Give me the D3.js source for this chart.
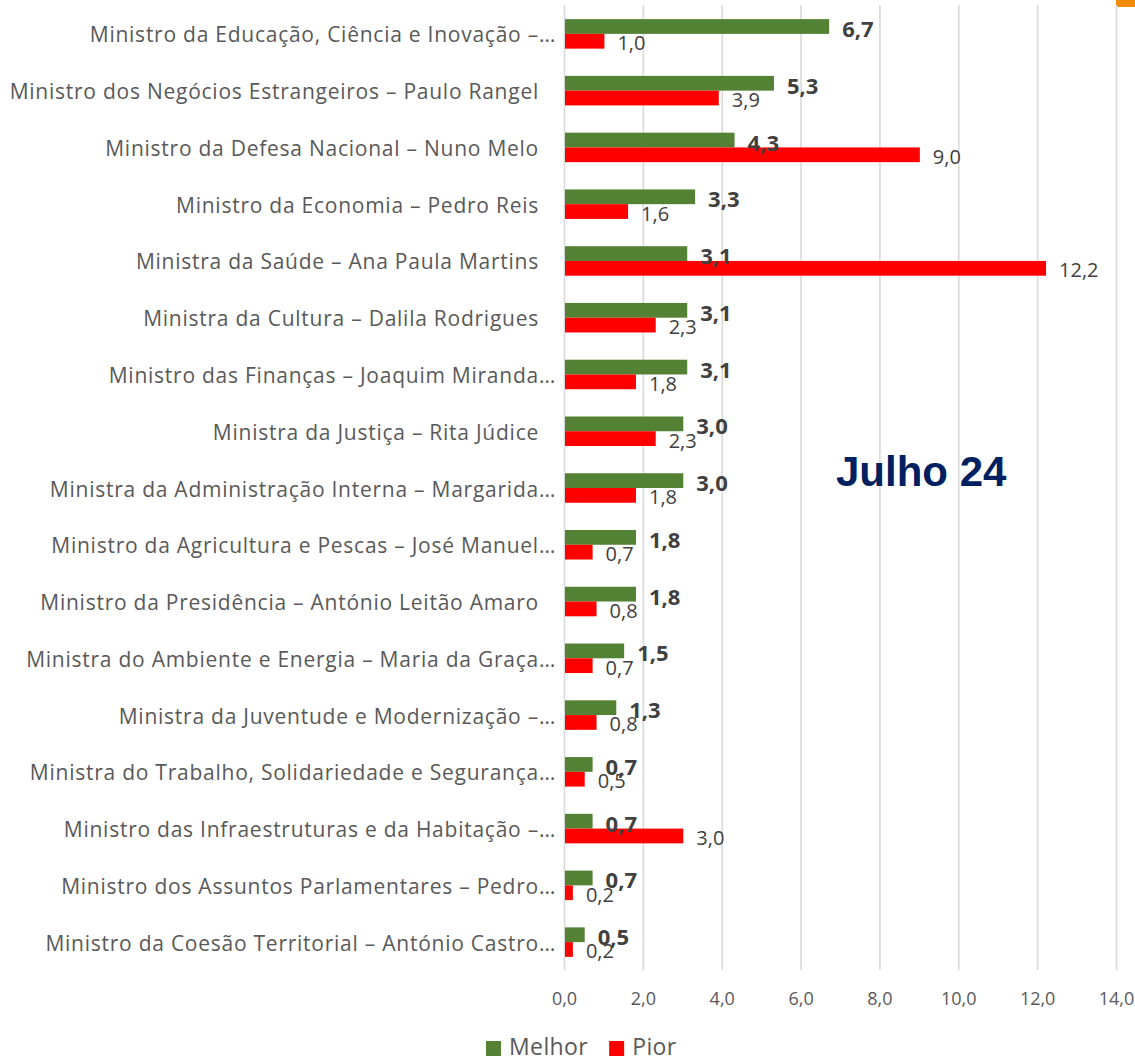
<!DOCTYPE html>
<html>
<head>
<meta charset="utf-8">
<script src="https://cdn.jsdelivr.net/npm/d3@7"></script>
<style>
  body { margin: 0; background: #fff; }
  svg { display: block; }
  text { white-space: pre; }
</style>
</head>
<body>
<svg id="chart" width="1135" height="1058"></svg>
<script>
// ministers, top to bottom
const ministers = [
  "Ministro da Educação, Ciência e Inovação –…",
  "Ministro dos Negócios Estrangeiros – Paulo Rangel",
  "Ministro da Defesa Nacional – Nuno Melo",
  "Ministro da Economia – Pedro Reis",
  "Ministra da Saúde – Ana Paula Martins",
  "Ministra da Cultura – Dalila Rodrigues",
  "Ministro das Finanças – Joaquim Miranda…",
  "Ministra da Justiça – Rita Júdice",
  "Ministra da Administração Interna – Margarida…",
  "Ministro da Agricultura e Pescas – José Manuel…",
  "Ministro da Presidência – António Leitão Amaro",
  "Ministra do Ambiente e Energia – Maria da Graça…",
  "Ministra da Juventude e Modernização –…",
  "Ministra do Trabalho, Solidariedade e Segurança…",
  "Ministro das Infraestruturas e da Habitação –…",
  "Ministro dos Assuntos Parlamentares – Pedro…",
  "Ministro da Coesão Territorial – António Castro…"
];
const melhor = [6.7, 5.3, 4.3, 3.3, 3.1, 3.1, 3.1, 3.0, 3.0, 1.8, 1.8, 1.5, 1.3, 0.7, 0.7, 0.7, 0.5];
const pior   = [1.0, 3.9, 9.0, 1.6, 12.2, 2.3, 1.8, 2.3, 1.8, 0.7, 0.8, 0.7, 0.8, 0.5, 3.0, 0.2, 0.2];
const seriesNames = ["Melhor", "Pior"];
const seriesColors = ["#548235", "#FF0000"];
const xTicks = [0, 2, 4, 6, 8, 10, 12, 14];
const title = "Julho 24";

const font = "'Open Sans', Lato, sans-serif";
const svg = d3.select("#chart");

const rows = ministers.map((name, i) => ({ name, values: [melhor[i], pior[i]] }));

let x = d3.scaleLinear().domain([0, 14]).range([564, 1116]);
let y = d3.scaleBand().domain(ministers).range([5.5, 970.5]).paddingInner(0.48).paddingOuter(0.24);
let ySub = d3.scaleBand().domain(seriesNames).range([0, y.bandwidth()]);
let color = d3.scaleOrdinal().domain(seriesNames).range(seriesColors);

const pt = d3.formatLocale({ decimal: ",", thousands: ".", grouping: [3], currency: ["", "€"] });
const fmt = pt.format(".1f");

// decorative orange corner
svg.append("rect").attr("x", 1116).attr("y", 0).attr("width", 19).attr("height", 7).attr("fill", "#F08A00");

// gridlines + tick labels
let xAxis = svg.append("g")
  .attr("transform", "translate(0,970)")
  .call(d3.axisBottom(x).tickValues(xTicks).tickSize(-965).tickFormat(fmt));
xAxis.select(".domain").remove();
xAxis.selectAll(".tick line").attr("stroke", "#D9D9D9").attr("stroke-width", 1.6);
xAxis.selectAll(".tick text")
  .attr("y", 35)
  .attr("dy", 0)
  .attr("fill", "#595959")
  .style("font-family", font)
  .style("font-size", "18px");

// category labels
svg.append("g").selectAll("text")
  .data(ministers)
  .join("text")
  .attr("x", d => d.endsWith("…") ? 556 : 539)
  .attr("y", d => y(d) + y.bandwidth() / 2 + 0.5)
  .attr("text-anchor", "end")
  .attr("dominant-baseline", "central")
  .attr("fill", "#595959")
  .style("font-family", font)
  .style("font-size", "21px")
  .style("letter-spacing", "0.75px")
  .text(d => d);

// bars
let groups = svg.append("g").selectAll("g")
  .data(rows)
  .join("g")
  .attr("transform", d => `translate(0,${y(d.name)})`);

groups.selectAll("rect")
  .data(d => d.values.map((v, i) => ({ key: seriesNames[i], value: v })))
  .join("rect")
  .attr("x", x(0) + 1)
  .attr("y", d => ySub(d.key))
  .attr("width", d => x(d.value) - x(0))
  .attr("height", ySub.bandwidth())
  .attr("fill", d => color(d.key));

// value labels (Pior first so bold Melhor sits on top)
["Pior", "Melhor"].forEach(key => {
  let idx = seriesNames.indexOf(key);
  svg.append("g").selectAll("text")
    .data(rows)
    .join("text")
    .attr("x", d => x(d.values[idx]) + 14)
    .attr("y", d => y(d.name) + ySub(key) + ySub.bandwidth() / 2 + 1.5)
    .attr("dominant-baseline", "central")
    .attr("fill", "#404040")
    .style("font-family", font)
    .style("font-size", key === "Melhor" ? "22px" : "20px")
    .style("font-weight", key === "Melhor" ? "bold" : "normal")
    .text(d => fmt(d.values[idx]));
});

// title inside plot
svg.append("text")
  .attr("x", 836)
  .attr("y", 486)
  .attr("fill", "#002060")
  .style("font-family", "'Liberation Sans', Arial, sans-serif")
  .style("font-weight", "bold")
  .style("font-size", "42px")
  .text(title);

// legend
let legend = svg.append("g").attr("transform", "translate(486,1055)");
let lx = 0;
seriesNames.forEach(name => {
  let item = legend.append("g").attr("transform", `translate(${lx},0)`);
  item.append("rect").attr("x", 0).attr("y", -14).attr("width", 15).attr("height", 15).attr("fill", color(name));
  let t = item.append("text")
    .attr("x", 23)
    .attr("y", 0)
    .attr("fill", "#595959")
    .style("font-family", font)
    .style("font-size", "23px")
    .style("letter-spacing", "0.4px")
    .text(name);
  lx += 23 + t.node().getComputedTextLength() + 21;
});
</script>
</body>
</html>
